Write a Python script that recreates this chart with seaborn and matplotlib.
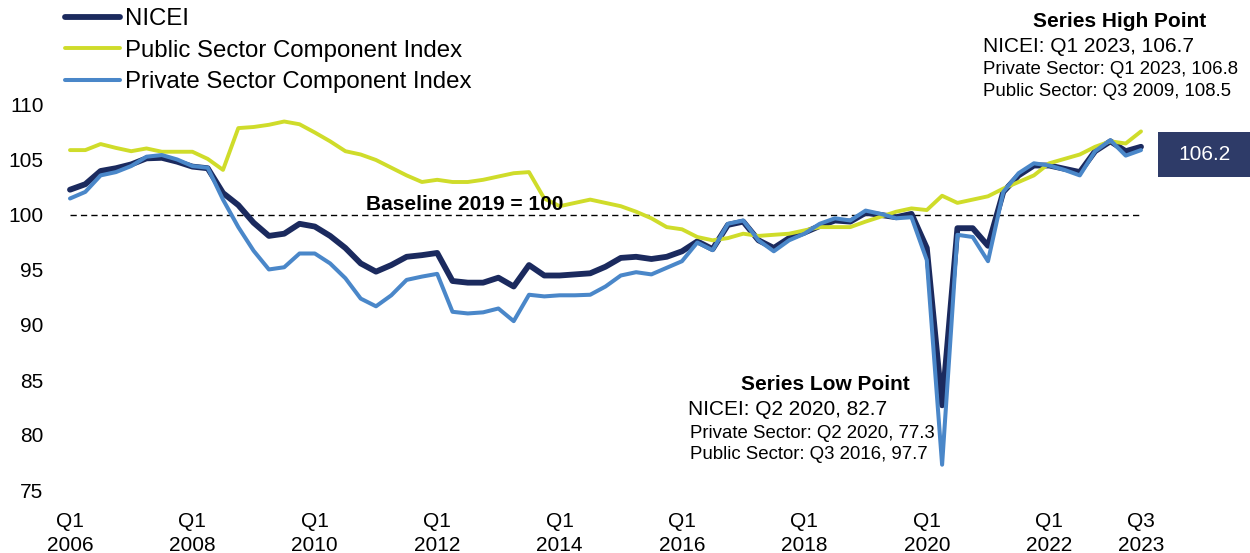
import numpy as np
import pandas as pd
import matplotlib
matplotlib.use("Agg")
import matplotlib.pyplot as plt
from matplotlib.patches import Rectangle
import seaborn as sns

# ---------------- data (quarterly, Q1 2006 .. Q3 2023) ----------------
years = list(range(2006, 2024))
quarters = [f"Q{q} {y}" for y in years for q in (1, 2, 3, 4)][:71]

nicei = [102.3, 102.8, 104.0, 104.25, 104.6, 105.15, 105.2, 104.85, 104.4, 104.25,
         102.0, 100.9, 99.3, 98.1, 98.3, 99.2, 98.95, 98.1, 97.0, 95.6,
         94.85, 95.45, 96.2, 96.35, 96.55, 94.0, 93.85, 93.85, 94.3, 93.5,
         95.45, 94.5, 94.5, 94.6, 94.7, 95.3, 96.1, 96.2, 96.0, 96.2,
         96.7, 97.6, 96.9, 99.1, 99.4, 97.7, 97.0, 97.9, 98.4, 99.0,
         99.5, 99.4, 100.2, 100.0, 99.8, 100.1, 97.0, 82.7, 98.8, 98.8,
         97.2, 102.1, 103.6, 104.5, 104.5, 104.2, 103.9, 105.8, 106.7, 105.8,
         106.2]

private = [101.5, 102.1, 103.6, 103.9, 104.45, 105.3, 105.45, 105.05, 104.45, 104.3,
           101.4, 98.9, 96.75, 95.05, 95.25, 96.5, 96.5, 95.6, 94.25, 92.4,
           91.7, 92.7, 94.1, 94.4, 94.65, 91.2, 91.05, 91.15, 91.5, 90.35,
           92.75, 92.6, 92.7, 92.7, 92.75, 93.5, 94.5, 94.8, 94.6, 95.2,
           95.8, 97.5, 96.8, 99.2, 99.5, 97.7, 96.7, 97.7, 98.3, 99.2,
           99.7, 99.5, 100.4, 100.1, 99.7, 99.8, 95.9, 77.3, 98.2, 98.0,
           95.8, 102.1, 103.8, 104.7, 104.5, 104.1, 103.6, 105.8, 106.8, 105.4,
           105.9]

public = [105.9, 105.9, 106.45, 106.1, 105.8, 106.05, 105.75, 105.75, 105.75, 105.1,
          104.1, 107.9, 108.0, 108.2, 108.5, 108.25, 107.5, 106.7, 105.8, 105.5,
          105.0, 104.3, 103.6, 103.0, 103.2, 103.0, 103.0, 103.2, 103.5, 103.8,
          103.9, 101.5, 100.8, 101.1, 101.4, 101.1, 100.8, 100.3, 99.7, 98.9,
          98.7, 98.0, 97.7, 97.9, 98.3, 98.1, 98.2, 98.3, 98.6, 98.9,
          98.9, 98.9, 99.4, 99.85, 100.3, 100.6, 100.45, 101.75, 101.1, 101.4,
          101.7, 102.4, 103.0, 103.6, 104.7, 105.1, 105.5, 106.2, 106.7, 106.5,
          107.6]

tick_idx = [0, 8, 16, 24, 32, 40, 48, 56, 64, 70]
tick_labels = ["Q1\n2006", "Q1\n2008", "Q1\n2010", "Q1\n2012", "Q1\n2014",
               "Q1\n2016", "Q1\n2018", "Q1\n2020", "Q1\n2022", "Q3\n2023"]
y_ticks = [75, 80, 85, 90, 95, 100, 105, 110]

series_names = ["NICEI", "Public Sector Component Index", "Private Sector Component Index"]

high_title = "Series High Point"
high_lines = ["NICEI: Q1 2023, 106.7", "Private Sector: Q1 2023, 106.8",
              "Public Sector: Q3 2009, 108.5"]
low_title = "Series Low Point"
low_lines = ["NICEI: Q2 2020, 82.7", "Private Sector: Q2 2020, 77.3",
             "Public Sector: Q3 2016, 97.7"]
baseline_label = "Baseline 2019 = 100"

# ---------------- style ----------------
sns.set_style("white")
plt.rcParams["font.family"] = ["Liberation Sans", "DejaVu Sans"]
plt.rcParams["text.color"] = "black"
plt.rcParams["xtick.color"] = "black"
plt.rcParams["ytick.color"] = "black"

C_NICEI = "#1b2a5e"
C_PUB = "#cfdc2a"
C_PRIV = "#4a87c9"
C_BOX = "#2e3b68"

df = pd.DataFrame({"idx": np.arange(len(nicei)), "quarter": quarters,
                   "NICEI": nicei, "Public": public, "Private": private})

W, H = 1250, 553
fig = plt.figure(figsize=(W / 100, H / 100), dpi=100)
ax = fig.add_axes([70 / W, (H - 490) / H, 1071 / W, 385 / H])

sns.lineplot(data=df, x="idx", y="NICEI", ax=ax, color=C_NICEI, lw=4.2,
             label=series_names[0], clip_on=False, zorder=3)
sns.lineplot(data=df, x="idx", y="Public", ax=ax, color=C_PUB, lw=2.8,
             label=series_names[1], clip_on=False, zorder=4)
sns.lineplot(data=df, x="idx", y="Private", ax=ax, color=C_PRIV, lw=2.9,
             label=series_names[2], clip_on=False, zorder=5)

ax.hlines(100, 0, len(nicei) - 1, colors="black", linestyles=(0, (4.5, 3)), lw=1.0, zorder=2)

ax.set_xlim(0, len(nicei) - 1)
ax.set_ylim(75, 110)
ax.set_xticks(tick_idx)
ax.set_xticklabels(tick_labels, linespacing=1.3)
ax.set_yticks(y_ticks)
ax.set_xlabel("")
ax.set_ylabel("")
ax.tick_params(axis="both", length=0, labelsize=15, colors="black")
ax.tick_params(axis="x", pad=16)
ax.tick_params(axis="y", pad=19)
for s in ax.spines.values():
    s.set_visible(False)
ax.grid(False)

leg = ax.legend(loc="upper left", bbox_to_anchor=(65 / W, 1 - 8 / H),
                bbox_transform=fig.transFigure, frameon=False, fontsize=17.3,
                handlelength=2.3, handletextpad=0.2, labelspacing=0.4,
                borderpad=0, borderaxespad=0)
for t in leg.get_texts():
    t.set_color("black")

# baseline label
fig.text(465 / W, 1 - 210 / H, baseline_label, ha="center", va="baseline",
         fontsize=15, fontweight="bold", color="black")

# high point block
fig.text(1120 / W, 1 - 27 / H, high_title, ha="center", va="baseline",
         fontsize=15, fontweight="bold", color="black")
fig.text(983 / W, 1 - 52 / H, high_lines[0], ha="left", va="baseline", fontsize=15, color="black")
fig.text(983 / W, 1 - 74 / H, high_lines[1], ha="left", va="baseline", fontsize=13.4, color="black")
fig.text(983 / W, 1 - 96 / H, high_lines[2], ha="left", va="baseline", fontsize=13.4, color="black")

# low point block
fig.text(825 / W, 1 - 390 / H, low_title, ha="center", va="baseline",
         fontsize=15, fontweight="bold", color="black")
fig.text(688 / W, 1 - 415 / H, low_lines[0], ha="left", va="baseline", fontsize=15, color="black")
fig.text(690 / W, 1 - 438 / H, low_lines[1], ha="left", va="baseline", fontsize=13.4, color="black")
fig.text(690 / W, 1 - 459 / H, low_lines[2], ha="left", va="baseline", fontsize=13.4, color="black")

# last value box
fig.patches.append(Rectangle((1158 / W, (H - 177) / H), 92 / W, 45 / H,
                             transform=fig.transFigure, facecolor=C_BOX,
                             edgecolor="none", zorder=1))
fig.text(1204 / W, 1 - 154.5 / H, f"{nicei[-1]:.1f}", ha="center", va="center",
         fontsize=15, color="white", zorder=2)

fig.savefig("out.png", dpi=100, facecolor="white")
